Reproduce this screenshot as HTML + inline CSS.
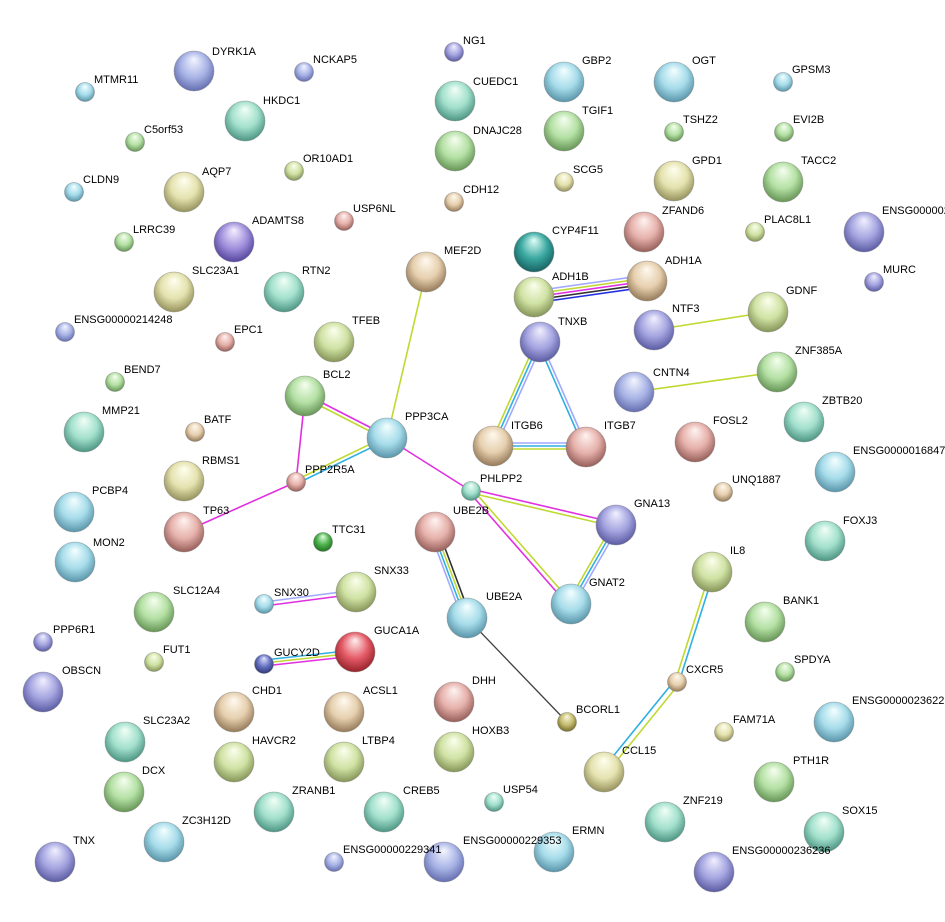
<!DOCTYPE html>
<html><head><meta charset="utf-8"><style>
html,body{margin:0;padding:0;background:#fff}
svg text{font-family:"Liberation Sans",sans-serif;font-size:11px;fill:#000}
</style></head><body>
<svg width="945" height="917" viewBox="0 0 945 917" xmlns="http://www.w3.org/2000/svg">
<defs>
<radialGradient id="bl" cx="0.5" cy="0.45" r="0.6" fx="0.5" fy="0.2"><stop offset="0" stop-color="#f4f6ff"/><stop offset="0.55" stop-color="#a9b4e6"/><stop offset="1" stop-color="#5a64a8"/></radialGradient>
<radialGradient id="pb" cx="0.5" cy="0.45" r="0.6" fx="0.5" fy="0.2"><stop offset="0" stop-color="#f2f0ff"/><stop offset="0.55" stop-color="#a4a4e0"/><stop offset="1" stop-color="#50509a"/></radialGradient>
<radialGradient id="cy" cx="0.5" cy="0.45" r="0.6" fx="0.5" fy="0.2"><stop offset="0" stop-color="#f4ffff"/><stop offset="0.55" stop-color="#a6dcea"/><stop offset="1" stop-color="#4e8aa0"/></radialGradient>
<radialGradient id="te" cx="0.5" cy="0.45" r="0.6" fx="0.5" fy="0.2"><stop offset="0" stop-color="#f2fff8"/><stop offset="0.55" stop-color="#a2e0cc"/><stop offset="1" stop-color="#3f8a78"/></radialGradient>
<radialGradient id="gr" cx="0.5" cy="0.45" r="0.6" fx="0.5" fy="0.2"><stop offset="0" stop-color="#f6fff0"/><stop offset="0.55" stop-color="#b4e0a4"/><stop offset="1" stop-color="#5a8a4a"/></radialGradient>
<radialGradient id="yg" cx="0.5" cy="0.45" r="0.6" fx="0.5" fy="0.2"><stop offset="0" stop-color="#fbffee"/><stop offset="0.55" stop-color="#d0e2a4"/><stop offset="1" stop-color="#7a8a4c"/></radialGradient>
<radialGradient id="ye" cx="0.5" cy="0.45" r="0.6" fx="0.5" fy="0.2"><stop offset="0" stop-color="#fffff0"/><stop offset="0.55" stop-color="#e4e2ae"/><stop offset="1" stop-color="#8a8650"/></radialGradient>
<radialGradient id="ta" cx="0.5" cy="0.45" r="0.6" fx="0.5" fy="0.2"><stop offset="0" stop-color="#fffaf0"/><stop offset="0.55" stop-color="#e6cfae"/><stop offset="1" stop-color="#8a6e4c"/></radialGradient>
<radialGradient id="sa" cx="0.5" cy="0.45" r="0.6" fx="0.5" fy="0.2"><stop offset="0" stop-color="#fff4f2"/><stop offset="0.55" stop-color="#e6b0aa"/><stop offset="1" stop-color="#8a524c"/></radialGradient>
<radialGradient id="pu" cx="0.5" cy="0.45" r="0.6" fx="0.5" fy="0.2"><stop offset="0" stop-color="#f4f0ff"/><stop offset="0.55" stop-color="#a090dc"/><stop offset="1" stop-color="#4a3a94"/></radialGradient>
<radialGradient id="re" cx="0.5" cy="0.45" r="0.6" fx="0.5" fy="0.2"><stop offset="0" stop-color="#fff0f0"/><stop offset="0.55" stop-color="#e45a66"/><stop offset="1" stop-color="#8a1a22"/></radialGradient>
<radialGradient id="ol" cx="0.5" cy="0.45" r="0.6" fx="0.5" fy="0.2"><stop offset="0" stop-color="#fbf8dc"/><stop offset="0.55" stop-color="#c4bc70"/><stop offset="1" stop-color="#6a6220"/></radialGradient>
<radialGradient id="nv" cx="0.5" cy="0.45" r="0.6" fx="0.5" fy="0.2"><stop offset="0" stop-color="#e0e4ff"/><stop offset="0.55" stop-color="#6470c0"/><stop offset="1" stop-color="#28306e"/></radialGradient>
<radialGradient id="dg" cx="0.5" cy="0.45" r="0.6" fx="0.5" fy="0.2"><stop offset="0" stop-color="#e0ffe0"/><stop offset="0.55" stop-color="#4cb04c"/><stop offset="1" stop-color="#1a6a1a"/></radialGradient>
<radialGradient id="dt" cx="0.5" cy="0.45" r="0.6" fx="0.5" fy="0.2"><stop offset="0" stop-color="#e0fff8"/><stop offset="0.55" stop-color="#3aa8a0"/><stop offset="1" stop-color="#13585a"/></radialGradient>
</defs>

<g fill="none" stroke-width="1.6">
<!-- MEF2D-PPP3CA -->
<line x1="426" y1="272" x2="387" y2="438" stroke="#c0d830"/>
<!-- ADH1B-ADH1A -->
<line x1="534" y1="291" x2="647" y2="275" stroke="#a0a8ff"/>
<line x1="534" y1="294" x2="647" y2="278" stroke="#c0d830"/>
<line x1="534" y1="297" x2="647" y2="281" stroke="#e030e0"/>
<line x1="534" y1="300" x2="647" y2="284" stroke="#303030"/>
<line x1="534" y1="303" x2="647" y2="287" stroke="#2030e0"/>
<!-- TNXB-ITGB6 -->
<line x1="536" y1="342" x2="489" y2="447" stroke="#c0d830"/>
<line x1="539" y1="343" x2="492" y2="448" stroke="#30b0e0"/>
<line x1="542" y1="344" x2="495" y2="449" stroke="#a0a8ff"/>
<!-- TNXB-ITGB7 -->
<line x1="538" y1="343" x2="584" y2="448" stroke="#30b0e0"/>
<line x1="541" y1="342" x2="587" y2="447" stroke="#a0a8ff"/>
<!-- ITGB6-ITGB7 -->
<line x1="493" y1="443" x2="586" y2="443" stroke="#a0a8ff"/>
<line x1="493" y1="446" x2="586" y2="446" stroke="#30b0e0"/>
<line x1="493" y1="449" x2="586" y2="449" stroke="#c0d830"/>
<!-- GDNF-NTF3, ZNF385A-CNTN4 -->
<line x1="654" y1="330" x2="768" y2="312" stroke="#c0d830"/>
<line x1="634" y1="392" x2="777" y2="372" stroke="#c0d830"/>
<!-- BCL2-PPP3CA -->
<line x1="305" y1="394" x2="387" y2="436" stroke="#e030e0"/>
<line x1="305" y1="398" x2="387" y2="440" stroke="#c0d830"/>
<!-- BCL2-PPP2R5A -->
<line x1="305" y1="396" x2="296" y2="482" stroke="#e030e0"/>
<!-- PPP2R5A-PPP3CA -->
<line x1="296" y1="480" x2="387" y2="436" stroke="#c0d830"/>
<line x1="296" y1="484" x2="387" y2="440" stroke="#30b0e0"/>
<!-- TP63-PPP2R5A -->
<line x1="184" y1="532" x2="296" y2="482" stroke="#e030e0"/>
<!-- PPP3CA-PHLPP2 -->
<line x1="387" y1="438" x2="471" y2="491" stroke="#e030e0"/>
<!-- PHLPP2-GNA13 -->
<line x1="471" y1="489" x2="616" y2="523" stroke="#e030e0"/>
<line x1="471" y1="493" x2="616" y2="527" stroke="#c0d830"/>
<!-- PHLPP2-GNAT2 -->
<line x1="469" y1="492" x2="568" y2="605" stroke="#e030e0"/>
<line x1="473" y1="490" x2="572" y2="603" stroke="#c0d830"/>
<!-- GNA13-GNAT2 -->
<line x1="613" y1="524" x2="567" y2="604" stroke="#c0d830"/>
<line x1="616" y1="525" x2="570" y2="605" stroke="#30b0e0"/>
<line x1="619" y1="526" x2="573" y2="606" stroke="#a0a8ff"/>
<!-- UBE2B-UBE2A -->
<line x1="430" y1="532" x2="462" y2="618" stroke="#a0a8ff"/>
<line x1="433" y1="532" x2="465" y2="618" stroke="#30b0e0"/>
<line x1="436" y1="532" x2="468" y2="618" stroke="#c0d830"/>
<line x1="439" y1="532" x2="471" y2="618" stroke="#303030"/>
<!-- UBE2A-BCORL1 -->
<line x1="467" y1="618" x2="567" y2="722" stroke="#404040" stroke-width="1.3"/>
<!-- IL8-CXCR5-CCL15 -->
<line x1="710" y1="572" x2="675" y2="682" stroke="#c0d830"/>
<line x1="714" y1="572" x2="679" y2="682" stroke="#30b0e0"/>
<line x1="675" y1="680" x2="602" y2="770" stroke="#30b0e0"/>
<line x1="679" y1="684" x2="606" y2="774" stroke="#c0d830"/>
<!-- SNX30-SNX33 -->
<line x1="264" y1="602" x2="356" y2="590" stroke="#a0a8ff"/>
<line x1="264" y1="606" x2="356" y2="594" stroke="#e030e0"/>
<!-- GUCY2D-GUCA1A -->
<line x1="264" y1="660" x2="355" y2="650" stroke="#30b0e0"/>
<line x1="264" y1="663" x2="355" y2="653" stroke="#c0d830"/>
<line x1="264" y1="666" x2="355" y2="656" stroke="#e030e0"/>
</g>

<g stroke-width="0.8" stroke="#777" stroke-opacity="0.5">
<circle cx="194" cy="71" r="20" fill="url(#bl)"/>
<circle cx="304" cy="72" r="9.5" fill="url(#bl)"/>
<circle cx="85" cy="92" r="9.5" fill="url(#cy)"/>
<circle cx="454" cy="52" r="9.5" fill="url(#pb)"/>
<circle cx="455" cy="101" r="20" fill="url(#te)"/>
<circle cx="564" cy="82" r="20" fill="url(#cy)"/>
<circle cx="674" cy="82" r="20" fill="url(#cy)"/>
<circle cx="783" cy="82" r="9.5" fill="url(#cy)"/>
<circle cx="245" cy="121" r="20" fill="url(#te)"/>
<circle cx="135" cy="142" r="9.5" fill="url(#gr)"/>
<circle cx="294" cy="171" r="9.5" fill="url(#yg)"/>
<circle cx="455" cy="151" r="20" fill="url(#gr)"/>
<circle cx="564" cy="131" r="20" fill="url(#gr)"/>
<circle cx="674" cy="132" r="9.5" fill="url(#gr)"/>
<circle cx="784" cy="132" r="9.5" fill="url(#gr)"/>
<circle cx="74" cy="192" r="9.5" fill="url(#cy)"/>
<circle cx="184" cy="192" r="20" fill="url(#ye)"/>
<circle cx="454" cy="202" r="9.5" fill="url(#ta)"/>
<circle cx="564" cy="182" r="9.5" fill="url(#ye)"/>
<circle cx="674" cy="181" r="20" fill="url(#ye)"/>
<circle cx="783" cy="182" r="20" fill="url(#gr)"/>
<circle cx="644" cy="232" r="20" fill="url(#sa)"/>
<circle cx="755" cy="232" r="9.5" fill="url(#yg)"/>
<circle cx="864" cy="232" r="20" fill="url(#pb)"/>
<circle cx="344" cy="221" r="9.5" fill="url(#sa)"/>
<circle cx="124" cy="242" r="9.5" fill="url(#gr)"/>
<circle cx="234" cy="242" r="20" fill="url(#pu)"/>
<circle cx="426" cy="272" r="20" fill="url(#ta)"/>
<circle cx="534" cy="252" r="20" fill="url(#dt)"/>
<circle cx="647" cy="281" r="20" fill="url(#ta)"/>
<circle cx="874" cy="282" r="9.5" fill="url(#pb)"/>
<circle cx="174" cy="292" r="20" fill="url(#ye)"/>
<circle cx="284" cy="292" r="20" fill="url(#te)"/>
<circle cx="534" cy="297" r="20" fill="url(#yg)"/>
<circle cx="768" cy="312" r="20" fill="url(#yg)"/>
<circle cx="654" cy="330" r="20" fill="url(#pb)"/>
<circle cx="65" cy="332" r="9.5" fill="url(#bl)"/>
<circle cx="334" cy="342" r="20" fill="url(#yg)"/>
<circle cx="225" cy="342" r="9.5" fill="url(#sa)"/>
<circle cx="540" cy="342" r="20" fill="url(#pb)"/>
<circle cx="777" cy="372" r="20" fill="url(#gr)"/>
<circle cx="115" cy="382" r="9.5" fill="url(#gr)"/>
<circle cx="305" cy="396" r="20" fill="url(#gr)"/>
<circle cx="634" cy="392" r="20" fill="url(#bl)"/>
<circle cx="804" cy="422" r="20" fill="url(#te)"/>
<circle cx="84" cy="432" r="20" fill="url(#te)"/>
<circle cx="195" cy="432" r="9.5" fill="url(#ta)"/>
<circle cx="387" cy="438" r="20" fill="url(#cy)"/>
<circle cx="493" cy="446" r="20" fill="url(#ta)"/>
<circle cx="586" cy="447" r="20" fill="url(#sa)"/>
<circle cx="695" cy="442" r="20" fill="url(#sa)"/>
<circle cx="835" cy="472" r="20" fill="url(#cy)"/>
<circle cx="184" cy="481" r="20" fill="url(#ye)"/>
<circle cx="296" cy="482" r="9.5" fill="url(#sa)"/>
<circle cx="471" cy="491" r="9.5" fill="url(#te)"/>
<circle cx="723" cy="492" r="9.5" fill="url(#ta)"/>
<circle cx="74" cy="512" r="20" fill="url(#cy)"/>
<circle cx="184" cy="532" r="20" fill="url(#sa)"/>
<circle cx="435" cy="532" r="20" fill="url(#sa)"/>
<circle cx="616" cy="525" r="20" fill="url(#pb)"/>
<circle cx="825" cy="541" r="20" fill="url(#te)"/>
<circle cx="323" cy="542" r="9.5" fill="url(#dg)"/>
<circle cx="75" cy="562" r="20" fill="url(#cy)"/>
<circle cx="712" cy="572" r="20" fill="url(#yg)"/>
<circle cx="356" cy="592" r="20" fill="url(#yg)"/>
<circle cx="154" cy="612" r="20" fill="url(#gr)"/>
<circle cx="264" cy="604" r="9.5" fill="url(#cy)"/>
<circle cx="467" cy="618" r="20" fill="url(#cy)"/>
<circle cx="571" cy="604" r="20" fill="url(#cy)"/>
<circle cx="765" cy="622" r="20" fill="url(#gr)"/>
<circle cx="43" cy="642" r="9.5" fill="url(#pb)"/>
<circle cx="355" cy="652" r="20" fill="url(#re)"/>
<circle cx="264" cy="664" r="9.5" fill="url(#nv)"/>
<circle cx="154" cy="662" r="9.5" fill="url(#yg)"/>
<circle cx="785" cy="672" r="9.5" fill="url(#gr)"/>
<circle cx="43" cy="692" r="20" fill="url(#pb)"/>
<circle cx="677" cy="682" r="9.5" fill="url(#ta)"/>
<circle cx="234" cy="712" r="20" fill="url(#ta)"/>
<circle cx="344" cy="712" r="20" fill="url(#ta)"/>
<circle cx="454" cy="702" r="20" fill="url(#sa)"/>
<circle cx="834" cy="722" r="20" fill="url(#cy)"/>
<circle cx="567" cy="722" r="9.5" fill="url(#ol)"/>
<circle cx="724" cy="732" r="9.5" fill="url(#ye)"/>
<circle cx="125" cy="742" r="20" fill="url(#te)"/>
<circle cx="234" cy="762" r="20" fill="url(#yg)"/>
<circle cx="344" cy="762" r="20" fill="url(#yg)"/>
<circle cx="454" cy="752" r="20" fill="url(#yg)"/>
<circle cx="604" cy="772" r="20" fill="url(#ye)"/>
<circle cx="774" cy="782" r="20" fill="url(#gr)"/>
<circle cx="124" cy="792" r="20" fill="url(#gr)"/>
<circle cx="494" cy="802" r="9.5" fill="url(#te)"/>
<circle cx="274" cy="812" r="20" fill="url(#te)"/>
<circle cx="384" cy="812" r="20" fill="url(#te)"/>
<circle cx="665" cy="822" r="20" fill="url(#te)"/>
<circle cx="824" cy="832" r="20" fill="url(#te)"/>
<circle cx="164" cy="842" r="20" fill="url(#cy)"/>
<circle cx="554" cy="852" r="20" fill="url(#cy)"/>
<circle cx="55" cy="862" r="20" fill="url(#pb)"/>
<circle cx="334" cy="862" r="9.5" fill="url(#bl)"/>
<circle cx="444" cy="862" r="20" fill="url(#bl)"/>
<circle cx="714" cy="872" r="20" fill="url(#pb)"/>
</g>

<g>
<text x="212" y="55">DYRK1A</text>
<text x="313" y="63">NCKAP5</text>
<text x="94" y="83">MTMR11</text>
<text x="463" y="44">NG1</text>
<text x="473" y="85">CUEDC1</text>
<text x="582" y="64">GBP2</text>
<text x="692" y="64">OGT</text>
<text x="792" y="73">GPSM3</text>
<text x="263" y="104">HKDC1</text>
<text x="144" y="133">C5orf53</text>
<text x="303" y="162">OR10AD1</text>
<text x="473" y="134">DNAJC28</text>
<text x="582" y="114">TGIF1</text>
<text x="683" y="123">TSHZ2</text>
<text x="793" y="123">EVI2B</text>
<text x="83" y="183">CLDN9</text>
<text x="202" y="175">AQP7</text>
<text x="463" y="193">CDH12</text>
<text x="573" y="173">SCG5</text>
<text x="692" y="164">GPD1</text>
<text x="801" y="164">TACC2</text>
<text x="662" y="214">ZFAND6</text>
<text x="764" y="223">PLAC8L1</text>
<text x="882" y="214">ENSG00000235</text>
<text x="353" y="212">USP6NL</text>
<text x="133" y="233">LRRC39</text>
<text x="252" y="224">ADAMTS8</text>
<text x="444" y="254">MEF2D</text>
<text x="552" y="234">CYP4F11</text>
<text x="665" y="264">ADH1A</text>
<text x="883" y="273">MURC</text>
<text x="192" y="274">SLC23A1</text>
<text x="302" y="274">RTN2</text>
<text x="552" y="280">ADH1B</text>
<text x="786" y="294">GDNF</text>
<text x="672" y="312">NTF3</text>
<text x="74" y="323">ENSG00000214248</text>
<text x="352" y="324">TFEB</text>
<text x="234" y="333">EPC1</text>
<text x="558" y="325">TNXB</text>
<text x="795" y="354">ZNF385A</text>
<text x="124" y="373">BEND7</text>
<text x="323" y="378">BCL2</text>
<text x="653" y="376">CNTN4</text>
<text x="822" y="404">ZBTB20</text>
<text x="102" y="414">MMP21</text>
<text x="204" y="423">BATF</text>
<text x="405" y="420">PPP3CA</text>
<text x="511" y="429">ITGB6</text>
<text x="604" y="429">ITGB7</text>
<text x="713" y="424">FOSL2</text>
<text x="853" y="454">ENSG0000016847</text>
<text x="202" y="464">RBMS1</text>
<text x="305" y="473">PPP2R5A</text>
<text x="480" y="482">PHLPP2</text>
<text x="732" y="483">UNQ1887</text>
<text x="92" y="494">PCBP4</text>
<text x="203" y="514">TP63</text>
<text x="453" y="514">UBE2B</text>
<text x="634" y="507">GNA13</text>
<text x="843" y="524">FOXJ3</text>
<text x="332" y="533">TTC31</text>
<text x="93" y="546">MON2</text>
<text x="730" y="554">IL8</text>
<text x="374" y="574">SNX33</text>
<text x="173" y="594">SLC12A4</text>
<text x="274" y="596">SNX30</text>
<text x="486" y="600">UBE2A</text>
<text x="589" y="586">GNAT2</text>
<text x="783" y="604">BANK1</text>
<text x="53" y="633">PPP6R1</text>
<text x="374" y="634">GUCA1A</text>
<text x="274" y="656">GUCY2D</text>
<text x="163" y="653">FUT1</text>
<text x="794" y="663">SPDYA</text>
<text x="62" y="674">OBSCN</text>
<text x="686" y="673">CXCR5</text>
<text x="252" y="694">CHD1</text>
<text x="363" y="694">ACSL1</text>
<text x="472" y="684">DHH</text>
<text x="852" y="704">ENSG0000023622</text>
<text x="576" y="713">BCORL1</text>
<text x="733" y="723">FAM71A</text>
<text x="143" y="724">SLC23A2</text>
<text x="252" y="744">HAVCR2</text>
<text x="362" y="744">LTBP4</text>
<text x="472" y="734">HOXB3</text>
<text x="622" y="754">CCL15</text>
<text x="793" y="764">PTH1R</text>
<text x="142" y="774">DCX</text>
<text x="503" y="793">USP54</text>
<text x="292" y="794">ZRANB1</text>
<text x="403" y="794">CREB5</text>
<text x="683" y="804">ZNF219</text>
<text x="842" y="814">SOX15</text>
<text x="182" y="824">ZC3H12D</text>
<text x="572" y="834">ERMN</text>
<text x="73" y="844">TNX</text>
<text x="343" y="853">ENSG00000229341</text>
<text x="463" y="844">ENSG00000229353</text>
<text x="732" y="854">ENSG00000236236</text>
</g>
</svg>
</body></html>
